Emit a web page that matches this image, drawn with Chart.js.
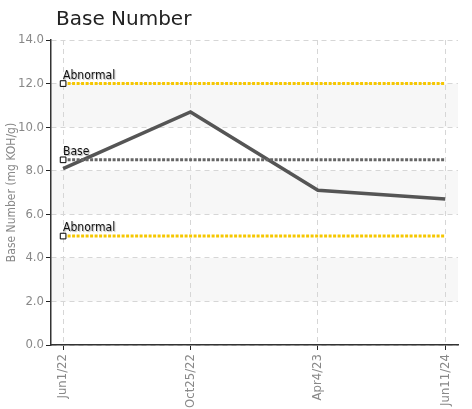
<!DOCTYPE html>
<html>
<head>
<meta charset="utf-8">
<script src="https://cdn.jsdelivr.net/npm/chart.js@4/dist/chart.umd.min.js"></script>
<style>
  html, body { margin: 0; padding: 0; background: #fff; }
  #wrap { position: relative; width: 472px; height: 409px; }
</style>
</head>
<body>
<div id="wrap"><canvas id="bnChart" width="472" height="409"></canvas></div>
<script>
// sample dates and measured base number
const dates = ["Jun1/22", "Oct25/22", "Apr4/23", "Jun11/24"];
const baseNumber = [8.1, 10.7, 7.1, 6.7];

// limit lines
const upperAbnormal = 12.0;
const baseValue = 8.5;
const lowerAbnormal = 5.0;

const yTicks = [0, 2, 4, 6, 8, 10, 12, 14];

const narrow = "'Liberation Sans Narrow', 'DejaVu Sans Condensed', 'Roboto', sans-serif";

function flatLine(v) {
  return [{ x: 0, y: v }, { x: dates.length - 1, y: v }];
}

// grey bands behind every other 2-unit step
const bandsPlugin = {
  id: "bands",
  beforeDraw(chart) {
    const { ctx, chartArea, scales } = chart;
    ctx.save();
    ctx.fillStyle = "#f7f7f7";
    [[10, 12], [6, 8], [2, 4]].forEach(b => {
      const top = scales.y.getPixelForValue(b[1]);
      const bottom = scales.y.getPixelForValue(b[0]);
      ctx.fillRect(chartArea.left, top, chartArea.right - chartArea.left, bottom - top);
    });
    ctx.restore();
  }
};

// title + labels on the limit lines
const textPlugin = {
  id: "texts",
  afterDraw(chart) {
    const { ctx } = chart;
    ctx.save();
    ctx.fillStyle = "#222";
    ctx.font = "20px 'DejaVu Sans', sans-serif";
    ctx.textBaseline = "alphabetic";
    ctx.fillText("Base Number", 56, 25);

    ctx.font = "12px " + narrow;
    ctx.shadowColor = "rgba(0,0,0,0.3)";
    ctx.shadowOffsetX = 1;
    ctx.shadowOffsetY = 1;
    ctx.shadowBlur = 1;
    chart.data.datasets.forEach((ds, i) => {
      if (!ds.tag) return;
      const pt = chart.getDatasetMeta(i).data[0];
      ctx.fillStyle = "#111";
      ctx.fillText(ds.tag, pt.x, pt.y - 5);
    });
    ctx.restore();
  }
};

const refStyle = (color) => ({
  borderColor: color,
  borderWidth: 3,
  borderDash: [3, 1.5],
  pointStyle: "rect",
  pointRadius: [4, 0],
  pointBackgroundColor: "#fff",
  pointBorderColor: "#000",
  pointBorderWidth: 1,
  fill: false,
  tension: 0
});

new Chart(document.getElementById("bnChart"), {
  type: "line",
  data: {
    datasets: [
      Object.assign({ label: "Abnormal", tag: "Abnormal", data: flatLine(upperAbnormal) }, refStyle("#f6c700")),
      Object.assign({ label: "Base", tag: "Base", data: flatLine(baseValue) }, refStyle("#666")),
      Object.assign({ label: "Abnormal low", tag: "Abnormal", data: flatLine(lowerAbnormal) }, refStyle("#f6c700")),
      {
        label: "Base Number",
        data: baseNumber.map((v, i) => ({ x: i, y: v })),
        borderColor: "#555",
        borderWidth: 3.5,
        pointRadius: 0,
        tension: 0
      }
    ]
  },
  options: {
    responsive: false,
    animation: false,
    events: [],
    layout: { padding: { top: 40, right: 14, left: 0, bottom: 0 } },
    plugins: {
      legend: { display: false },
      tooltip: { enabled: false },
      title: { display: false }
    },
    scales: {
      x: {
        type: "linear",
        min: -0.095,
        max: 3.1,
        afterBuildTicks(scale) {
          scale.ticks = dates.map((d, i) => ({ value: i }));
        },
        afterFit(scale) { scale.height = 64; },
        ticks: {
          autoSkip: false,
          maxRotation: 90,
          minRotation: 90,
          color: "#888",
          font: { family: narrow, size: 13 },
          padding: 4,
          callback: (v) => dates[v]
        },
        grid: {
          color: "#d6d6d6",
          lineWidth: 1,
          tickColor: "#222",
          tickLength: 5,
          tickWidth: 1
        },
        border: { display: true, color: "#333", width: 1.5, dash: [5, 4] }
      },
      y: {
        min: 0,
        max: 14,
        afterBuildTicks(scale) {
          scale.ticks = yTicks.map(v => ({ value: v }));
        },
        afterFit(scale) { scale.width = 51; },
        ticks: {
          color: "#888",
          font: { family: narrow, size: 13 },
          padding: 2,
          callback: (v) => v.toFixed(1)
        },
        grid: {
          color: "#d6d6d6",
          lineWidth: 1,
          tickColor: "#222",
          tickLength: 5,
          tickWidth: 1
        },
        border: { display: true, color: "#333", width: 1.5, dash: [5, 4] },
        title: {
          display: true,
          text: "Base Number (mg KOH/g)",
          color: "#888",
          font: { family: narrow, size: 12 },
          padding: { top: 5, bottom: 0 }
        }
      }
    }
  },
  plugins: [bandsPlugin, textPlugin]
});
</script>
</body>
</html>
